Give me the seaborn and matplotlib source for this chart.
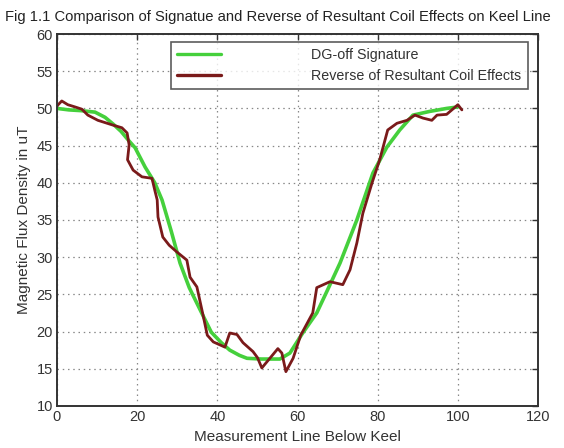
import matplotlib
matplotlib.use("Agg")
import matplotlib.pyplot as plt
import seaborn as sns
import pandas as pd
from matplotlib.lines import Line2D

sig_x = [0, 3, 6, 9.5, 12, 14, 16, 17.7, 19.5, 22, 24.4, 26.2, 28.5, 30.7, 33, 36, 38.5, 41,
         43.1, 45.5, 47.4, 51, 55.6, 58.1, 61.3, 64.8, 67.5, 70.6, 74.8, 78.8, 82.3, 85.5,
         88.8, 93, 97.2, 100]
sig_y = [50, 49.8, 49.7, 49.5, 48.8, 47.9, 46.9, 45.8, 44.7, 42.1, 40, 37.7, 33.5, 29.2,
         25.9, 22.6, 19.9, 18.5, 17.5, 16.8, 16.4, 16.3, 16.3, 17.1, 19.8, 22.5, 25.6, 29.2,
         35, 41.3, 44.8, 47.1, 49.1, 49.6, 50, 50.2]

rev_x = [0, 0.3, 1.2, 2.7, 4.5, 6.2, 7.7, 10.2, 13.7, 16.2, 17.5, 18, 17.6, 19, 21.2, 23.7,
         24.4, 25, 25.2, 26.4, 28, 29.9, 32.4, 33.2, 34.9, 36.4, 37.5, 39, 41.9, 43.1, 44.9,
         46.4, 48.9, 50, 51.1, 53.1, 55.1, 56.1, 57.1, 58.9, 60.8, 63.8, 64.8, 68.1, 71.3,
         73.1, 74.8, 76.3, 78.6, 80.5, 82.5, 84.8, 87.3, 89.3, 91.3, 93.5, 94.8, 97.2, 98.5,
         100, 101]
rev_y = [50.3, 50.5, 51, 50.5, 50.2, 49.9, 49.1, 48.4, 47.8, 47.4, 46.7, 45.1, 43.1, 41.7,
         40.8, 40.6, 39, 37.7, 35.4, 32.7, 31.6, 30.7, 29.6, 27.3, 26, 22.3, 19.5, 18.6, 17.9,
         19.8, 19.6, 18.5, 17.3, 16.5, 15.1, 16.4, 17.7, 17.1, 14.6, 16.4, 19.5, 22.5, 25.9,
         26.7, 26.3, 28.3, 31.9, 35.9, 40, 43.1, 47.1, 48, 48.4, 49.1, 48.7, 48.4, 49.1, 49.2,
         49.8, 50.5, 49.8]

labels = ["DG-off Signature", "Reverse of Resultant Coil Effects"]
x_ticks = [0, 20, 40, 60, 80, 100, 120]
y_ticks = [10, 15, 20, 25, 30, 35, 40, 45, 50, 55, 60]

df = pd.concat([
    pd.DataFrame({"x": sig_x, "y": sig_y, "series": labels[0]}),
    pd.DataFrame({"x": rev_x, "y": rev_y, "series": labels[1]}),
], ignore_index=True)

sns.set_style("white")
plt.rcParams['font.family'] = ['Liberation Sans', 'DejaVu Sans']

fig = plt.figure(figsize=(5.64, 4.48), dpi=100)
ax = fig.add_axes([0.101, 0.094, 0.853, 0.83])

palette = {labels[0]: "#45d03c", labels[1]: "#7a1a1a"}
sns.lineplot(data=df, x="x", y="y", hue="series", palette=palette, sort=False,
             estimator=None, ax=ax, linewidth=2.2, legend=False)
for line, w in zip(ax.get_lines(), [2.6, 2.0]):
    line.set_linewidth(w)

ax.set_xlim(0, 120)
ax.set_ylim(10, 60)
ax.set_xticks(x_ticks)
ax.set_yticks(y_ticks)
ax.tick_params(direction="in", top=True, right=True, length=4, width=1,
               labelsize=10.5, colors="#333333", labelcolor="#333333", pad=3)
ax.grid(True, linestyle=(0, (1.2, 3)), color="#888888", linewidth=0.9)
for s in ax.spines.values():
    s.set_color("#333333")
    s.set_linewidth(1.4)

ax.set_xlabel("Measurement Line Below Keel", fontsize=11, color="#333333", labelpad=4)
ax.set_ylabel("Magnetic Flux Density in uT", fontsize=11, color="#333333", labelpad=4)
fig.text(0.009, 0.978, "Fig 1.1 Comparison of Signatue and Reverse of Resultant Coil Effects on Keel Line",
         fontsize=10.6, color="#222222", va="top", ha="left")

handles = [Line2D([], [], color=palette[l], linewidth=2.4) for l in labels]
leg = ax.legend(handles, labels, loc="upper left", bbox_to_anchor=(0.236, 0.979),
                fontsize=10.3, frameon=True, fancybox=False, handlelength=3.1,
                handletextpad=6.3, borderpad=0.45, labelspacing=0.45, borderaxespad=0)
leg.get_frame().set_edgecolor("#333333")
leg.get_frame().set_linewidth(1.2)
for t in leg.get_texts():
    t.set_color("#333333")

fig.savefig("out.png", dpi=100, facecolor="white")
